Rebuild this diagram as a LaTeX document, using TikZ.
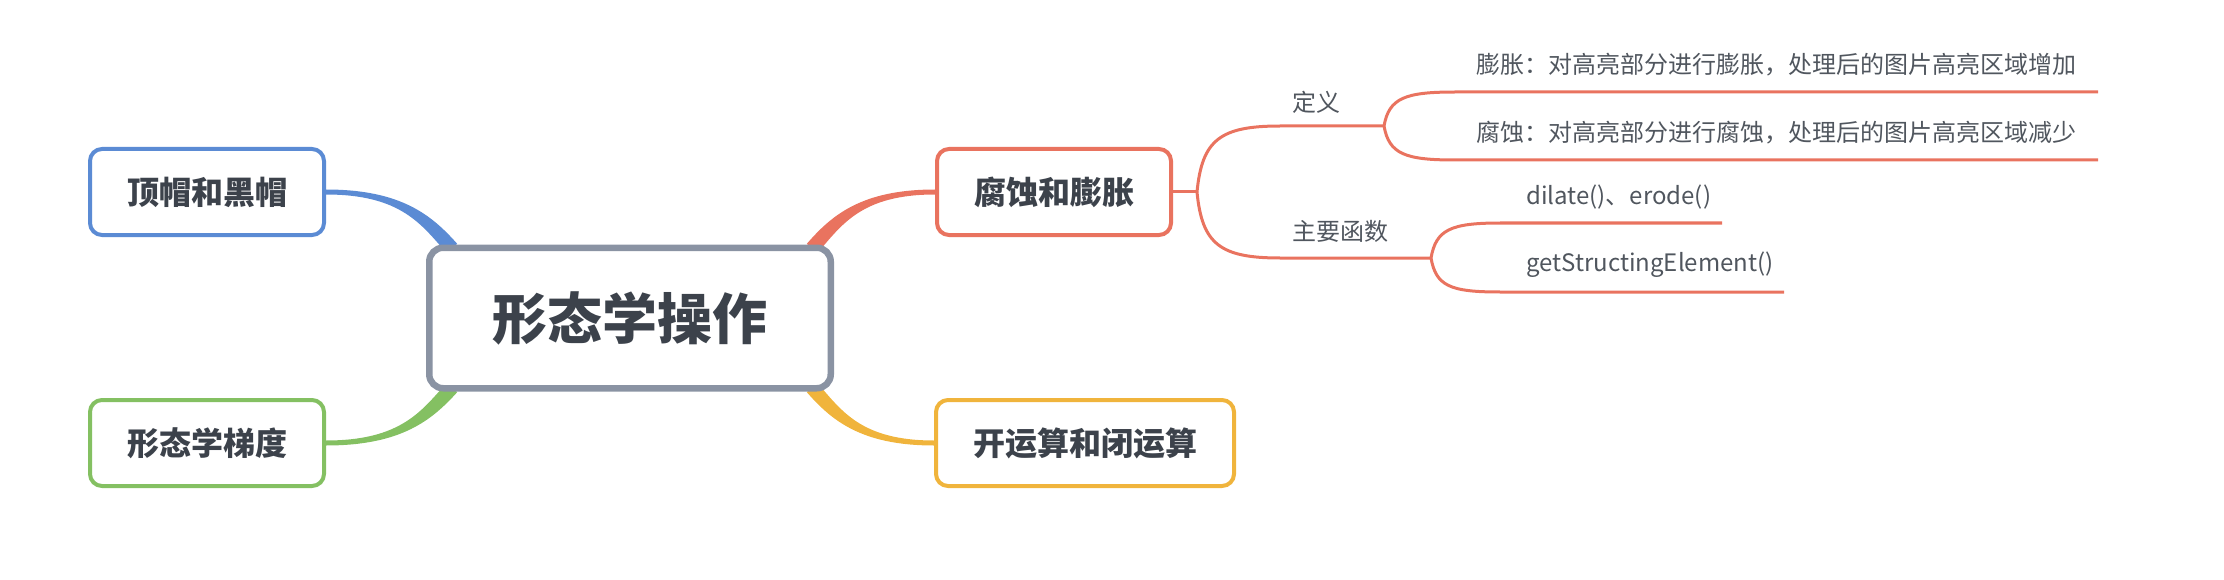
\documentclass[tikz,border=0pt]{standalone}
\usepackage{fontspec}
\setmainfont{Noto Sans CJK SC}
\usetikzlibrary{calc}
\pgfdeclarelayer{bg}
\pgfsetlayers{bg,main}
\definecolor{cblue}{RGB}{91,139,212}
\definecolor{cred}{RGB}{233,115,95}
\definecolor{cgreen}{RGB}{132,192,98}
\definecolor{cyellow}{RGB}{240,180,60}
\definecolor{cgray}{RGB}{138,147,163}
\definecolor{ctext}{RGB}{60,66,75}
\definecolor{cleaf}{RGB}{80,86,94}
\tikzset{
 topic/.style={draw, line width=4pt, rounded corners=12pt, fill=white, minimum width=234pt, minimum height=86pt, font=\fontsize{32}{38}\selectfont\bfseries, text=ctext, inner sep=0pt},
 central/.style={draw=cgray, line width=6.5pt, rounded corners=14pt, fill=white, minimum width=401.5pt, minimum height=140.5pt, font=\fontsize{55}{64}\selectfont\bfseries, text=ctext, inner sep=0pt},
 leaf/.style={font=\fontsize{24}{28}\selectfont, text=cleaf, inner sep=0pt},
 branch/.style={draw=cred, line width=3pt, line join=round},
}
% tapered main link: #1 colour, #2 start, #3 end, #4 #5 half-width normal at end
\newcommand\mmlink[5]{%
 \fill[#1] let \p1=(#2), \p2=(#3), \n1={\x2-\x1}, \n2={\y2-\y1} in
 ({\x1},{\y1+2.5pt}) .. controls ({\x1+0.6*\n1},{\y1+2.5pt}) and ({\x2-0.2*\n1+#4},{\y2-0.5*\n2+#5}) .. ({\x2+#4},{\y2+#5})
 -- ({\x2-#4},{\y2-#5}) .. controls ({\x2-0.2*\n1-#4},{\y2-0.5*\n2-#5}) and ({\x1+0.6*\n1},{\y1-2.5pt}) .. ({\x1},{\y1-2.5pt}) -- cycle;}
\begin{document}
\begin{tikzpicture}[x=1pt,y=-1pt]
\useasboundingbox (0,0) rectangle (2224,580);
% main nodes
\node[central] (root) at (630,318) {形态学操作};
\node[topic, draw=cblue] (tophat) at (207,192) {顶帽和黑帽};
\node[topic, draw=cgreen] (grad) at (207,443) {形态学梯度};
\node[topic, draw=cred] (erode) at (1054,192) {腐蚀和膨胀};
\node[topic, draw=cyellow, minimum width=298pt] (open) at (1085,443) {开运算和闭运算};
% labels
\node[leaf] (def) at (1316,102) {定义};
\node[leaf] (func) at (1340,231) {主要函数};
\node[leaf, anchor=west] (t1) at (1476,65) {膨胀：对高亮部分进行膨胀，处理后的图片高亮区域增加};
\node[leaf, anchor=west] (t2) at (1476,133) {腐蚀：对高亮部分进行腐蚀，处理后的图片高亮区域减少};
\node[leaf, anchor=west] (t3) at (1526,197) {dilate()、erode()};
\node[leaf, anchor=west] (t4) at (1526,265) {getStructingElement()};
% link end points (inside the central box border)
\coordinate (eB) at ($(root.north west)+(26,4)$);
\coordinate (eR) at ($(root.north east)+(-22,4)$);
\coordinate (eY) at ($(root.south east)+(-22,-4)$);
\coordinate (eG) at ($(root.south west)+(26,-4)$);
% branch coordinates
\coordinate (f0) at ($(erode.east)+(24,0)$);
\coordinate (defL) at (1280,126);
\coordinate (defR) at (1384,126);
\coordinate (funcL) at (1280,258);
\coordinate (funcR) at (1431,258);
\coordinate (l1L) at (1455,92);  \coordinate (l1R) at (2098,92);
\coordinate (l2L) at (1455,160); \coordinate (l2R) at (2098,160);
\coordinate (l3L) at (1500,223); \coordinate (l3R) at (1722,223);
\coordinate (l4L) at (1500,292); \coordinate (l4R) at (1784,292);
\begin{pgfonlayer}{bg}
\mmlink{cblue}{tophat.east}{eB}{5.2pt}{4.7pt}
\mmlink{cred}{erode.west}{eR}{-5.2pt}{4.7pt}
\mmlink{cyellow}{open.west}{eY}{5.2pt}{4.7pt}
\mmlink{cgreen}{grad.east}{eG}{-5.2pt}{4.7pt}
\draw[branch] (erode.east) -- (f0);
\draw[branch] (f0) .. controls +(5,-52) and +(-60,0) .. (defL) -- (defR);
\draw[branch] (f0) .. controls +(5,52) and +(-60,0) .. (funcL) -- (funcR);
\draw[branch] (defR) .. controls +(5,-28) and +(-50,0) .. (l1L) -- (l1R);
\draw[branch] (defR) .. controls +(5,28) and +(-50,0) .. (l2L) -- (l2R);
\draw[branch] (funcR) .. controls +(5,-28) and +(-50,0) .. (l3L) -- (l3R);
\draw[branch] (funcR) .. controls +(5,28) and +(-50,0) .. (l4L) -- (l4R);
\end{pgfonlayer}
\end{tikzpicture}
\end{document}
